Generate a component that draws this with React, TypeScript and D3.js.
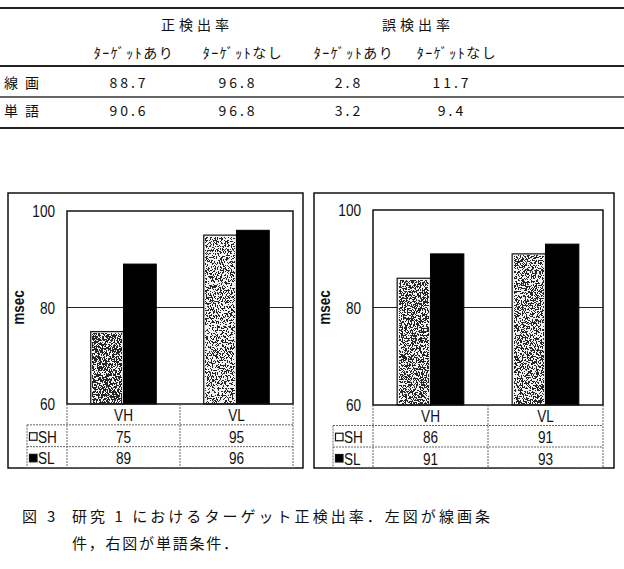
import React from "react";
import * as d3 from "d3";

// ---------- data ----------
const tableGroups = ["正検出率", "誤検出率"];
const tableSubHeaders = ["ﾀｰｹﾞｯﾄあり", "ﾀｰｹﾞｯﾄなし", "ﾀｰｹﾞｯﾄあり", "ﾀｰｹﾞｯﾄなし"];
const tableRowLabels = ["線画", "単語"];
const lineDrawingRates = ["88.7", "96.8", "2.8", "11.7"];
const wordRates = ["90.6", "96.8", "3.2", "9.4"];

const categories = ["VH", "VL"];
const seriesNames = ["SH", "SL"];
const leftSH = [75, 95];
const leftSL = [89, 96];
const rightSH = [86, 91];
const rightSL = [91, 93];
const yTicks = [60, 80, 100];
const yDomain = [60, 100];
const yLabel = "msec";

const captionFig = "図";
const captionNum = "3";
const captionLine1 = "研究 1 におけるターゲット正検出率．左図が線画条";
const captionLine2 = "件，右図が単語条件．";

// ---------- layout ----------
const W = 624;
const H = 569;
const jpFont = "'Noto Sans CJK JP', sans-serif";
const sansFont = "'Liberation Sans', Arial, sans-serif";
const NARROW = 0.8;

const colCenters = [134, 243, 354, 457];
const groupCenters = [197, 418];

type Panel = {
  box: [number, number, number, number];
  plot: [number, number, number, number];
  sh: number[];
  sl: number[];
};

const panels: Panel[] = [
  { box: [8, 193, 303, 468], plot: [67, 211, 293, 404], sh: leftSH, sl: leftSL },
  { box: [314, 193, 614, 468], plot: [373, 210, 603, 405], sh: rightSH, sl: rightSL },
];

function NText({
  x,
  y,
  anchor = "start",
  size = 17,
  bold = false,
  rotate = 0,
  children,
}: {
  x: number;
  y: number;
  anchor?: "start" | "middle" | "end";
  size?: number;
  bold?: boolean;
  rotate?: number;
  children: React.ReactNode;
}) {
  return (
    <text
      transform={`translate(${x},${y}) rotate(${rotate}) scale(${NARROW},1)`}
      textAnchor={anchor}
      dominantBaseline="central"
      fontFamily={sansFont}
      fontSize={size}
      fontWeight={bold ? "bold" : "normal"}
      fill="#111"
    >
      {children}
    </text>
  );
}

function ChartPanel({ p, idx }: { p: Panel; idx: number }) {
  const [bx0, by0, bx1, by1] = p.box;
  const [px0, py0, px1, py1] = p.plot;
  const y = d3.scaleLinear().domain(yDomain).range([py1, py0]);
  const x = d3.scaleBand<string>().domain(categories).range([px0, px1]).padding(0);
  const groupW = x.bandwidth() * 0.58;
  const inner = d3.scaleBand<string>().domain(seriesNames).range([0, groupW]).padding(0);
  const series = [p.sh, p.sl];
  const rowTop = py1;
  const row1 = by1 - (by1 - rowTop) * (2 / 3) - 0.5;
  const row2 = by1 - (by1 - rowTop) * (1 / 3);
  const legendLeft = px0 - 40;
  const tableStroke = "#666";
  const dash = "2 1";
  const rowMid = [(rowTop + row1) / 2 + 1, (row1 + row2) / 2 + 1, (row2 + by1) / 2 + 1];

  return (
    <g>
      <rect x={bx0} y={by0} width={bx1 - bx0} height={by1 - by0} fill="white" stroke="#111" strokeWidth={1.5} />
      {yTicks
        .filter((t) => t !== yDomain[0] && t !== yDomain[1])
        .map((t) => (
          <line key={t} x1={px0} x2={px1} y1={y(t)} y2={y(t)} stroke="#222" strokeWidth={1} />
        ))}
      {categories.map((c, ci) => {
        const gx = (x(c) as number) + (x.bandwidth() - groupW) / 2;
        return seriesNames.map((s, si) => {
          const v = series[si][ci];
          const bx = gx + (inner(s) as number);
          const by = y(v);
          const bw = inner.bandwidth();
          const bh = y(yDomain[0]) - by;
          if (si === 0) {
            return (
              <g key={c + s}>
                <rect x={bx} y={by} width={bw} height={bh} fill="#f2f2f2" stroke="#111" strokeWidth={1.2} />
                <rect
                  x={bx + 2}
                  y={by + 2}
                  width={bw - 4}
                  height={bh - 3}
                  fill="black"
                  filter={`url(#stipple${ci === 0 ? "Dark" : "Light"}${idx})`}
                />
              </g>
            );
          }
          return <rect key={c + s} x={bx} y={by} width={bw} height={bh} fill="#000" stroke="#000" />;
        });
      })}
      <rect x={px0} y={py0} width={px1 - px0} height={py1 - py0} fill="none" stroke="#111" strokeWidth={1.5} />
      {yTicks.map((t) => (
        <NText key={t} x={px0 - 12} y={y(t)} anchor="end">
          {t}
        </NText>
      ))}
      <NText x={px0 - 49} y={(py0 + py1) / 2} anchor="middle" bold rotate={-90}>
        {yLabel}
      </NText>
      <g stroke={tableStroke} strokeWidth={1} strokeDasharray={dash}>
        <line x1={legendLeft} x2={px1} y1={row1} y2={row1} />
        <line x1={legendLeft} x2={px1} y1={row2} y2={row2} />
        <line x1={legendLeft} x2={legendLeft} y1={row1} y2={by1} />
        <line x1={px0} x2={px0} y1={rowTop} y2={by1} />
        <line x1={px0 + x.bandwidth()} x2={px0 + x.bandwidth()} y1={rowTop} y2={by1} />
        <line x1={px1} x2={px1} y1={rowTop} y2={by1} />
        <line x1={legendLeft} x2={px1} y1={by1 - 0.5} y2={by1 - 0.5} />
      </g>
      {categories.map((c) => (
        <NText key={c} x={(x(c) as number) + x.bandwidth() / 2} y={rowMid[0]} anchor="middle">
          {c}
        </NText>
      ))}
      {seriesNames.map((s, si) => (
        <g key={s}>
          <rect
            x={legendLeft + 2.5}
            y={rowMid[si + 1] - 4}
            width={7.5}
            height={7.5}
            fill={si === 0 ? "white" : "black"}
            stroke="#111"
            strokeWidth={1.2}
          />
          <NText x={legendLeft + 11} y={rowMid[si + 1]}>
            {s}
          </NText>
          {categories.map((c, ci) => (
            <NText key={c} x={(x(c) as number) + x.bandwidth() / 2} y={rowMid[si + 1]} anchor="middle">
              {series[si][ci]}
            </NText>
          ))}
        </g>
      ))}
    </g>
  );
}

function stippleFilter(id: string, offset: number, seed: number) {
  return (
    <filter id={id} x="0" y="0" width="1" height="1" filterUnits="objectBoundingBox" colorInterpolationFilters="sRGB">
      <feTurbulence type="fractalNoise" baseFrequency="1.2 0.6" numOctaves={3} seed={seed} result="noise" />
      <feColorMatrix
        in="noise"
        type="matrix"
        values={`0 0 0 0 0  0 0 0 0 0  0 0 0 0 0  -4 0 0 0 ${offset}`}
        result="a"
      />
      <feComponentTransfer in="a">
        <feFuncA type="discrete" tableValues="0 0.85" />
      </feComponentTransfer>
    </filter>
  );
}

export default function App() {
  const rowData = [lineDrawingRates, wordRates];
  const rowY = [82, 110];
  return (
    <svg
      width={W}
      height={H}
      viewBox={`0 0 ${W} ${H}`}
      style={{ position: "absolute", left: 0, top: 0, background: "white" }}
    >
      <defs>
        {stippleFilter("stippleDark0", 2.6, 3)}
        {stippleFilter("stippleLight0", 2.35, 7)}
        {stippleFilter("stippleDark1", 2.5, 11)}
        {stippleFilter("stippleLight1", 2.45, 5)}
      </defs>
      <rect x={0} y={0} width={W} height={H} fill="white" />

      <line x1={0} x2={W} y1={8} y2={8} stroke="#222" strokeWidth={2} />
      <line x1={0} x2={W} y1={66} y2={66} stroke="#222" strokeWidth={2} />
      <line x1={0} x2={W} y1={97} y2={97} stroke="#333" strokeWidth={1.3} />
      <line x1={0} x2={W} y1={128} y2={128} stroke="#222" strokeWidth={2} />
      {tableGroups.map((g, i) => (
        <text
          key={g}
          x={groupCenters[i]}
          y={24}
          textAnchor="middle"
          dominantBaseline="central"
          fontFamily={jpFont}
          fontSize={14}
          letterSpacing={4}
          fill="#111"
        >
          {g}
        </text>
      ))}
      {tableSubHeaders.map((s, i) => (
        <text
          key={i}
          x={colCenters[i]}
          y={52}
          textAnchor="middle"
          dominantBaseline="central"
          fontFamily={jpFont}
          fontSize={14}
          letterSpacing={1.5}
          fill="#111"
        >
          {s}
        </text>
      ))}
      {tableRowLabels.map((r, ri) => (
        <g key={r}>
          <text
            x={4}
            y={rowY[ri]}
            dominantBaseline="central"
            fontFamily={jpFont}
            fontSize={14}
            letterSpacing={7}
            fill="#111"
          >
            {r}
          </text>
          {rowData[ri].map((v, ci) => (
            <text
              key={ci}
              x={colCenters[ci] - 5}
              y={rowY[ri]}
              textAnchor="middle"
              dominantBaseline="central"
              fontFamily={jpFont}
              fontSize={14}
              letterSpacing={3}
              fill="#111"
            >
              {v}
            </text>
          ))}
        </g>
      ))}

      {panels.map((p, i) => (
        <ChartPanel key={i} p={p} idx={i} />
      ))}

      <g fontFamily={jpFont} fontSize={15} fill="#111">
        <text x={22} y={515} dominantBaseline="central">
          {captionFig}
        </text>
        <text x={47} y={515} dominantBaseline="central">
          {captionNum}
        </text>
        <text x={72} y={515} dominantBaseline="central" textLength={418} lengthAdjust="spacing">
          {captionLine1}
        </text>
        <text x={72} y={542} dominantBaseline="central" textLength={166} lengthAdjust="spacing">
          {captionLine2}
        </text>
      </g>
    </svg>
  );
}
